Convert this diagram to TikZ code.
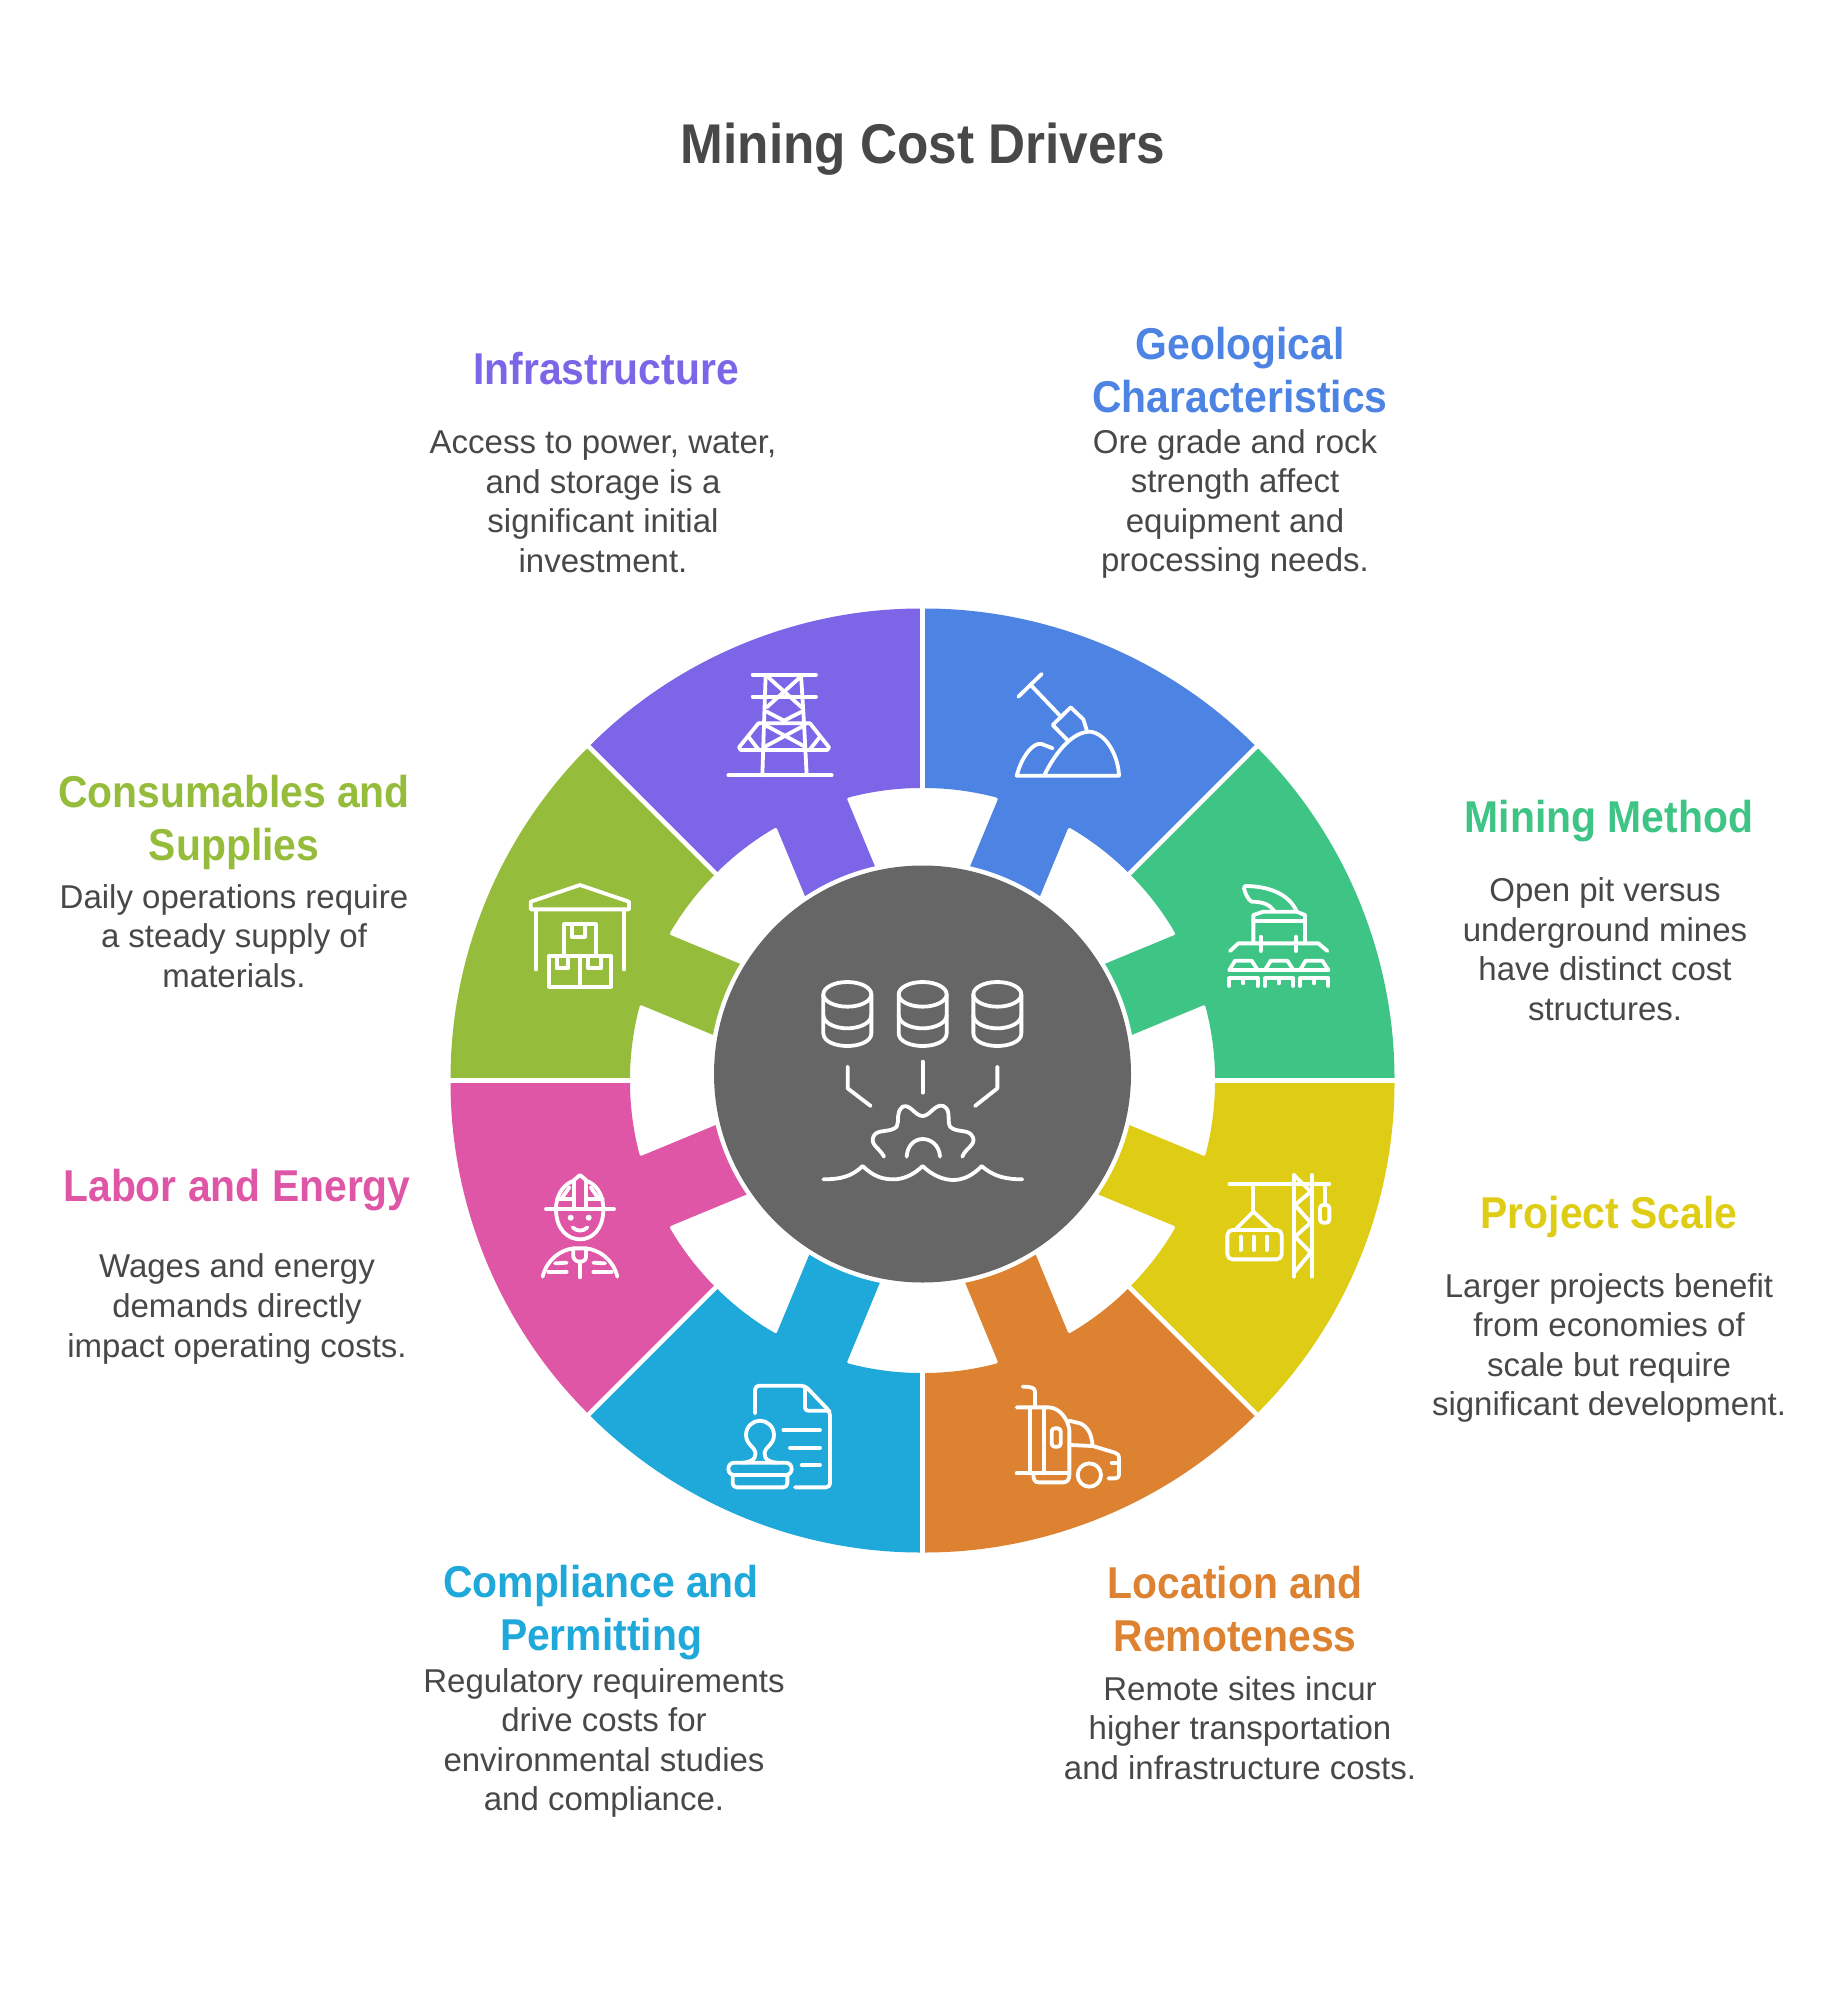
\documentclass[tikz,border=0pt]{standalone}
\usepackage{fontspec}
\setmainfont[BoldFeatures={FakeStretch=0.916}]{Liberation Sans}
\definecolor{cblue}{HTML}{4D84E3}
\definecolor{cpurple}{HTML}{7D65E8}
\definecolor{cgreen}{HTML}{3EC585}
\definecolor{cyellow}{HTML}{DFCC14}
\definecolor{corange}{HTML}{DC8230}
\definecolor{ccyan}{HTML}{1EA9DA}
\definecolor{cpink}{HTML}{DF56A6}
\definecolor{clime}{HTML}{95BC3A}
\definecolor{cgrey}{HTML}{666666}
\definecolor{ctext}{HTML}{484848}
\tikzset{
  zm/.style 2 args={shift={(#1,#2)},x=0.16667pt,y=-0.16667pt},
  icon/.style={draw=white,line width=1.9pt,line cap=round,line join=round},
  headtxt/.style={font=\fontsize{22.3}{26.5}\selectfont\bfseries,align=center,inner sep=0pt},
  desctxt/.style={font=\fontsize{16.5}{19.8}\selectfont,text=ctext,align=center,inner sep=0pt},
}
\begin{document}
\begin{tikzpicture}[x=0.5pt,y=-0.5pt]
\useasboundingbox (0,0) rectangle (1846,2000);
\fill[white] (0,0) rectangle (1846,2000);
\node[font=\fontsize{28}{32}\selectfont\bfseries,text=ctext,inner sep=0pt] (title) at (923,149) {Mining Cost Drivers};
% ring segments
\begin{scope}[shift={(922.5,1080.5)}]
\foreach \a/\c in {-67.5/cblue,-22.5/cgreen,22.5/cyellow,67.5/corange,112.5/ccyan,157.5/cpink,202.5/clime,247.5/cpurple}{
  \fill[\c,rounded corners=1pt] (\a-22.5:472) arc[start angle=\a-22.5,delta angle=45,radius=472]
    -- (\a+22.5:292.5) arc[start angle=\a+22.5,end angle=\a+7.46,radius=292.5]
    -- (\a+12.6:174.2) -- (\a-12.6:174.2) -- (\a-7.46:292.5)
    arc[start angle=\a-7.46,end angle=\a-22.5,radius=292.5] -- cycle;
}
\foreach \a in {-90,-45,0,45,90,135,180,225}{
  \draw[white,line width=2.3pt] (\a:285) -- (\a:480);
}
\end{scope}
\fill[white] (922.5,1074) circle[radius=213];
\fill[cgrey] (922.5,1074) circle[radius=208.5];
% centre icon
\begin{scope}[zm={780}{950}]
\foreach \x in {202,428,652}{
  \draw[icon,shift={(\x,0)}] (0,133) ellipse[x radius=72,y radius=37];
  \draw[icon,shift={(\x,0)}] (-72,133) -- (-72,250) .. controls (-72,275) and (-35,288) .. (0,288) .. controls (35,288) and (72,275) .. (72,250) -- (72,133);
  \draw[icon,shift={(\x,0)}] (-72,195) .. controls (-72,220) and (-35,235) .. (0,235) .. controls (35,235) and (72,220) .. (72,195);
}
\draw[icon] (203,350) -- (203,415) -- (272,468);
\draw[icon] (428,335) -- (428,428);
\draw[icon] (652,350) -- (652,415) -- (585,468);
\draw[icon] (312,620) .. controls (300,595) and (270,585) .. (280,560) .. controls (290,535) and (330,550) .. (350,530) .. controls (360,510) and (345,490) .. (368,470) .. controls (390,460) and (405,498) .. (428,498) .. controls (450,498) and (465,460) .. (490,468) .. controls (515,480) and (500,510) .. (510,530) .. controls (530,550) and (565,535) .. (578,560) .. controls (590,585) and (555,595) .. (547,620);
\draw[icon] (380,620) .. controls (382,585) and (405,567) .. (428,567) .. controls (452,567) and (478,585) .. (480,620);
\draw[icon] (130,688) .. controls (180,688) and (215,680) .. (248,648) .. controls (280,680) and (310,688) .. (340,688) .. controls (370,688) and (400,675) .. (428,648) .. controls (455,675) and (490,690) .. (520,690) .. controls (550,690) and (580,675) .. (605,648) .. controls (640,680) and (680,688) .. (727,688);
\end{scope}
% tower
\begin{scope}[zm={430}{590}]
\draw[icon] (968,254) -- (1158,254);
\draw[icon] (968,320) -- (1158,320);
\draw[icon] (895,556) -- (1205,556);
\draw[icon] (1007,254) -- (1002,400) -- (997,556);
\draw[icon] (1113,254) -- (1122,400) -- (1130,556);
\draw[icon] (985,400) -- (1140,400) -- (1197,472) -- (1192,480) -- (932,480) -- (927,472) -- cycle;
\draw[icon] (1015,262) -- (1115,352);
\draw[icon] (1110,262) -- (1010,352);
\draw[icon] (1010,365) -- (1062,392) -- (1115,365);
\draw[icon] (1005,405) -- (1125,470);
\draw[icon] (1125,405) -- (1005,470);
\draw[icon] (955,440) -- (985,478);
\draw[icon] (1170,440) -- (1140,478);
% warehouse
\draw[icon] (302,935) -- (450,885) -- (597,935) -- (597,958) -- (302,958) -- cycle;
\draw[icon] (318,958) -- (318,1138);
\draw[icon] (582,958) -- (582,1138);
\draw[icon] (403,1095) -- (403,1003) -- (497,1003) -- (497,1095);
\draw[icon] (425,1005) -- (425,1040) -- (465,1040) -- (465,1005);
\draw[icon] (357,1097) rectangle (543,1190);
\draw[icon] (450,1097) -- (450,1190);
\draw[icon] (380,1100) -- (380,1135) -- (415,1135) -- (415,1100);
\draw[icon] (475,1100) -- (475,1135) -- (512,1135) -- (512,1100);
\end{scope}
% shovel and machine
\begin{scope}[zm={920}{590}]
\draw[icon] (295,320) -- (365,252);
\draw[icon] (335,288) -- (418,375);
\draw[icon] (442,450) -- (398,405) -- (452,352) -- (490,388) -- (500,420);
\draw[icon] (372,557) .. controls (410,480) and (460,425) .. (510,425) .. controls (560,430) and (595,500) .. (597,557) -- (290,557) .. controls (305,500) and (340,455) .. (365,462) -- (398,475);
\draw[icon] (1130,965) .. controls (1110,915) and (1050,888) .. (975,888) -- (972,895) .. controls (975,910) and (985,930) .. (995,935) .. controls (1030,935) and (1050,945) .. (1062,962);
\draw[icon] (1000,1055) -- (1000,975) -- (1030,965) -- (1130,965) -- (1155,975) -- (1155,1055);
\draw[icon] (1000,993) -- (1150,993);
\draw[icon] (930,1083) -- (955,1060) -- (1195,1060) -- (1222,1083);
\draw[icon] (1022,1040) -- (1022,1083);
\draw[icon] (1128,1040) -- (1128,1083);
\draw[icon] (928,1140) -- (1225,1140);
\foreach \x in {0,107,212}{
  \draw[icon,shift={(\x,0)}] (928,1140) -- (945,1112) -- (995,1112) -- (1013,1140);
  \draw[icon,shift={(\x,0)}] (928,1188) -- (928,1165) -- (1013,1165) -- (1013,1188);
  \draw[icon,shift={(\x,0)}] (970,1165) -- (970,1180);
}
\end{scope}
% worker and stamp
\begin{scope}[zm={430}{1070}]
\draw[icon] (348,417) -- (552,417);
\draw[icon] (378,417) .. controls (378,370) and (405,340) .. (432,332);
\draw[icon] (468,332) .. controls (495,340) and (520,370) .. (520,417);
\draw[icon] (432,417) -- (432,330) -- (450,315) -- (468,330) -- (468,417);
\draw[icon] (382,388) -- (432,388);
\draw[icon] (468,388) -- (518,388);
\draw[icon] (395,385) -- (418,352);
\draw[icon] (482,352) -- (505,385);
\draw[icon] (378,417) .. controls (378,480) and (415,508) .. (450,508) .. controls (485,508) and (520,480) .. (520,417);
\fill[white] (422,443) circle[radius=9];
\fill[white] (476,443) circle[radius=9];
\draw[icon] (428,472) .. controls (440,485) and (460,485) .. (472,472);
\draw[icon] (338,620) .. controls (350,570) and (390,540) .. (430,535) -- (468,535) .. controls (510,540) and (550,570) .. (562,620);
\draw[icon] (430,535) -- (430,560) .. controls (432,570) and (440,575) .. (450,575) .. controls (460,575) and (468,570) .. (468,560) -- (468,535);
\draw[icon] (450,575) -- (450,622);
\draw[icon] (375,580) -- (410,578);
\draw[icon] (355,605) -- (410,605);
\draw[icon] (490,578) -- (525,580);
\draw[icon] (490,605) -- (545,605);
% document
\draw[icon,rounded corners=2pt] (975,1030) -- (975,947) -- (1125,947) -- (1200,1025) -- (1200,1252) -- (1095,1252);
\draw[icon,rounded corners=1.5pt] (1125,950) -- (1125,1022) -- (1198,1022);
\draw[icon] (1060,1080) -- (1170,1080);
\draw[icon] (1080,1133) -- (1170,1133);
\draw[icon] (1115,1185) -- (1170,1185);
\draw[icon,rounded corners=3pt] (895,1178) rectangle (1085,1215);
\draw[icon,rounded corners=2pt] (908,1215) -- (908,1252) -- (1072,1252) -- (1072,1215);
\draw[icon] (940,1178) .. controls (975,1175) and (985,1155) .. (970,1135) .. controls (955,1120) and (948,1110) .. (948,1095) .. controls (948,1070) and (968,1052) .. (990,1052) .. controls (1012,1052) and (1032,1070) .. (1032,1095) .. controls (1032,1110) and (1025,1120) .. (1010,1135) .. controls (995,1155) and (1005,1175) .. (1040,1178);
\end{scope}
% truck and crane
\begin{scope}[zm={920}{1070}]
\draw[icon] (308,950) .. controls (330,950) and (345,952) .. (345,965) -- (345,1012);
\draw[icon] (290,1012) -- (385,1012) .. controls (420,1012) and (445,1050) .. (448,1080) -- (448,1215) .. controls (448,1230) and (440,1237) .. (430,1237) -- (355,1237) .. controls (345,1237) and (340,1230) .. (340,1212);
\draw[icon] (290,1210) -- (445,1210);
\draw[icon] (330,1012) -- (330,1210);
\draw[icon] (372,1012) -- (372,1210);
\draw[icon,rounded corners=1.5pt] (395,1075) rectangle (422,1130);
\draw[icon] (448,1052) -- (480,1060) .. controls (505,1070) and (515,1095) .. (518,1128);
\draw[icon] (452,1125) -- (518,1128) -- (585,1148) .. controls (592,1150) and (597,1155) .. (597,1165) -- (597,1215) .. controls (597,1222) and (592,1225) .. (585,1225) -- (565,1225);
\draw[icon] (575,1178) -- (597,1178);
\draw[icon] (508,1215) circle[radius=35];
\draw[icon] (928,342) -- (1228,342);
\draw[icon] (1122,315) -- (1122,620);
\draw[icon] (1175,315) -- (1175,620);
\draw[icon] (1122,315) -- (1172,365) -- (1125,405) -- (1172,458) -- (1125,500) -- (1172,548) -- (1125,605);
\draw[icon] (1000,342) -- (1000,425);
\draw[icon] (945,480) -- (1000,425) -- (1060,480);
\draw[icon,rounded corners=2.5pt] (922,480) rectangle (1085,568);
\draw[icon] (962,500) -- (962,540);
\draw[icon] (1002,500) -- (1002,540);
\draw[icon] (1042,500) -- (1042,540);
\draw[icon] (1215,342) -- (1215,405);
\draw[icon,rounded corners=1.5pt] (1200,405) rectangle (1228,458);
\end{scope}
% labels
\node[headtxt,text=cblue] (h1) at (1240,370) {Geological\\Characteristics};
\node[desctxt] (d1) at (1235,504) {Ore grade and rock\\strength affect\\equipment and\\processing needs.};
\node[headtxt,text=cpurple] (h2) at (606,369) {Infrastructure};
\node[desctxt] (d2) at (603,502) {Access to power, water,\\and storage is a\\significant initial\\investment.};
\node[headtxt,text=cgreen] (h3) at (1609,821) {Mining Method};
\node[desctxt] (d3) at (1605,949) {Open pit versus\\underground mines\\have distinct cost\\structures.};
\node[headtxt,text=clime] (h4) at (234,822) {Consumables and\\Supplies};
\node[desctxt] (d4) at (234,936) {Daily operations require\\a steady supply of\\materials.};
\node[headtxt,text=cyellow] (h5) at (1609,1217) {Project Scale};
\node[desctxt] (d5) at (1609,1348) {Larger projects benefit\\from economies of\\scale but require\\significant development.};
\node[headtxt,text=cpink] (h6) at (237,1190) {Labor and Energy};
\node[desctxt] (d6) at (237,1309) {Wages and energy\\demands directly\\impact operating costs.};
\node[headtxt,text=ccyan] (h7) at (601,1613) {Compliance and\\Permitting};
\node[desctxt] (d7) at (604,1743) {Regulatory requirements\\drive costs for\\environmental studies\\and compliance.};
\node[headtxt,text=corange] (h8) at (1235,1609) {Location and\\Remoteness};
\node[desctxt] (d8) at (1240,1728) {Remote sites incur\\higher transportation\\and infrastructure costs.};
\end{tikzpicture}
\end{document}
